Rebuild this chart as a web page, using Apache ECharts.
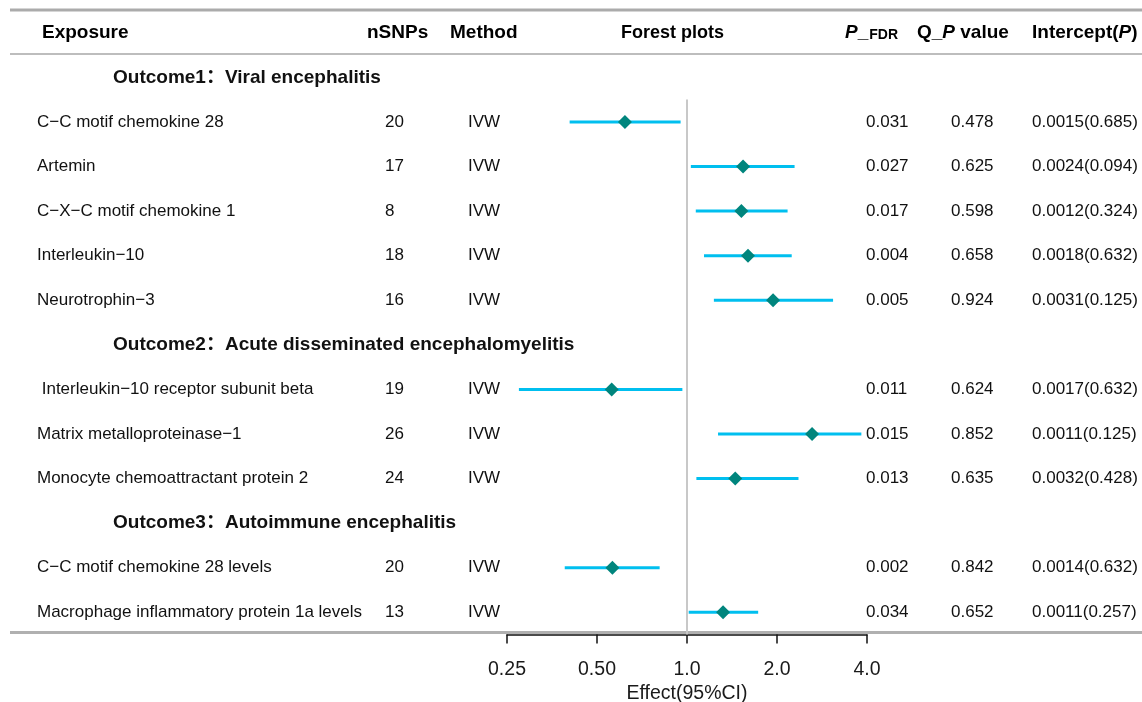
<!DOCTYPE html>
<html><head><meta charset="utf-8">
<script src="https://cdn.jsdelivr.net/npm/echarts@6/dist/echarts.min.js"></script>
<style>html,body{margin:0;padding:0;background:#fff}#c{width:1142px;height:702px}</style>
</head><body><div id="c"></div>
<script>
// ---------------- data ----------------
const outcomeNames = ['Outcome1\uFF1AViral encephalitis', 'Outcome2\uFF1AAcute disseminated encephalomyelitis', 'Outcome3\uFF1AAutoimmune encephalitis'];
const groupSizes = [5, 3, 2];
const exposures = [
  'C\u2212C motif chemokine 28', 'Artemin', 'C\u2212X\u2212C motif chemokine 1', 'Interleukin\u221210', 'Neurotrophin\u22123',
  ' Interleukin\u221210 receptor subunit beta', 'Matrix metalloproteinase\u22121', 'Monocyte chemoattractant protein 2',
  'C\u2212C motif chemokine 28 levels', 'Macrophage inflammatory protein 1a levels'
];
const nSNPs = [20, 17, 8, 18, 16, 19, 26, 24, 20, 13];
const methods = ['IVW', 'IVW', 'IVW', 'IVW', 'IVW', 'IVW', 'IVW', 'IVW', 'IVW', 'IVW'];
const effect = [0.62, 1.54, 1.52, 1.60, 1.94, 0.56, 2.62, 1.45, 0.563, 1.32];
const lower  = [0.405, 1.03, 1.07, 1.14, 1.23, 0.274, 1.27, 1.075, 0.39, 1.013];
const upper  = [0.952, 2.29, 2.17, 2.24, 3.08, 0.965, 3.83, 2.36, 0.81, 1.73];
const pFDR = ['0.031', '0.027', '0.017', '0.004', '0.005', '0.011', '0.015', '0.013', '0.002', '0.034'];
const qP = ['0.478', '0.625', '0.598', '0.658', '0.924', '0.624', '0.852', '0.635', '0.842', '0.652'];
const intercept = ['0.0015(0.685)', '0.0024(0.094)', '0.0012(0.324)', '0.0018(0.632)', '0.0031(0.125)',
  '0.0017(0.632)', '0.0011(0.125)', '0.0032(0.428)', '0.0014(0.632)', '0.0011(0.257)'];
const tickValues = [0.25, 0.5, 1, 2, 4];
const tickLabels = ['0.25', '0.50', '1.0', '2.0', '4.0'];
const axisName = 'Effect(95%CI)';
const refValue = 1;

// ---------------- layout ----------------
const FONT = '"Liberation Sans", Arial, "Noto Sans CJK SC", sans-serif';
const rowSlots = [], headerSlots = [];
let s = 0;
groupSizes.forEach(n => { headerSlots.push(s); s++; for (let i = 0; i < n; i++) { rowSlots.push(s); s++; } });
const nSlots = s;
const gridTop = 55, gridH = 579.6;
const colX = { exposure: 37, nsnps: 385, method: 468, pfdr: 866, qp: 951, intercept: 1032, outcome: 113 };

// table text entries
const textItems = [];
rowSlots.forEach((sl, i) => {
  textItems.push({ x: colX.exposure, y: sl, t: exposures[i], b: false });
  textItems.push({ x: colX.nsnps, y: sl, t: String(nSNPs[i]), b: false });
  textItems.push({ x: colX.method, y: sl, t: methods[i], b: false });
  textItems.push({ x: colX.pfdr, y: sl, t: pFDR[i], b: false });
  textItems.push({ x: colX.qp, y: sl, t: qP[i], b: false });
  textItems.push({ x: colX.intercept, y: sl, t: intercept[i], b: false });
});
headerSlots.forEach((sl, i) => textItems.push({ x: colX.outcome, y: sl, t: outcomeNames[i], b: true }));

const chart = echarts.init(document.getElementById('c'));
function hdr(x, text, size, rich) {
  return { type: 'text', x: x, y: 33, style: { text: text, verticalAlign: 'middle', align: 'left', rich: rich || {}, fontFamily: FONT, fontSize: size, fontWeight: 'bold', fill: '#000' } };
}
const richP = {
  i: { fontFamily: FONT, fontSize: 19, fontWeight: 'bold', fontStyle: 'italic', fill: '#000' },
  b: { fontFamily: FONT, fontSize: 19, fontWeight: 'bold', fill: '#000' },
  s: { fontFamily: FONT, fontSize: 14, fontWeight: 'bold', fill: '#000', padding: [4, 0, 0, 1] }
};

chart.setOption({
  animation: false,
  backgroundColor: '#fff',
  grid: [
    { left: 507, width: 360, top: gridTop, height: gridH, containLabel: false, outerBoundsMode: 'none' },
    { left: 0, width: 1142, top: gridTop, height: gridH, containLabel: false, outerBoundsMode: 'none' }
  ],
  xAxis: [
    {
      gridIndex: 0, type: 'log', logBase: 2, min: 0.25, max: 4, splitNumber: 4, position: 'bottom',
      axisLine: { show: true, onZero: false, lineStyle: { color: '#111', width: 1.5 } },
      axisTick: { show: true, length: 9, lineStyle: { color: '#111', width: 1.5 } },
      splitLine: { show: false },
      axisLabel: {
        fontFamily: FONT, fontSize: 19.5, color: '#1a1a1a', margin: 25,
        formatter: v => { let k = 0, d = 1e9; tickValues.forEach((t, j) => { const dd = Math.abs(Math.log2(t) - Math.log2(v)); if (dd < d) { d = dd; k = j; } }); return tickLabels[k]; }
      },
      name: axisName, nameLocation: 'middle', nameGap: 44,
      nameTextStyle: { fontFamily: FONT, fontSize: 19.5, color: '#1a1a1a' }
    },
    { gridIndex: 1, type: 'value', min: 0, max: 1142, show: false }
  ],
  yAxis: [
    { gridIndex: 0, type: 'value', min: -0.5, max: nSlots - 0.5, inverse: true, show: false },
    { gridIndex: 1, type: 'value', min: -0.5, max: nSlots - 0.5, inverse: true, show: false }
  ],
  graphic: [
    { type: 'line', shape: { x1: 10, y1: 10, x2: 1142, y2: 10 }, style: { stroke: '#ababab', lineWidth: 3 } },
    { type: 'line', shape: { x1: 10, y1: 54, x2: 1142, y2: 54 }, style: { stroke: '#bdbdbd', lineWidth: 2 } },
    { type: 'line', shape: { x1: 10, y1: 632.5, x2: 1142, y2: 632.5 }, style: { stroke: '#b0b0b0', lineWidth: 3 } },
    hdr(42, 'Exposure', 19),
    hdr(367, 'nSNPs', 19),
    hdr(450, 'Method', 19),
    hdr(621, 'Forest plots', 18),
    hdr(845, '{i|P}{b|_}{s|FDR}', 19, richP),
    hdr(917, '{b|Q_}{i|P}{b| value}', 19, richP),
    hdr(1032, '{b|Intercept(}{i|P}{b|)}', 19, richP)
  ],
  series: [
    {
      type: 'line', xAxisIndex: 0, yAxisIndex: 0, symbol: 'none', silent: true,
      data: [[refValue, 0.5], [refValue, nSlots - 0.5]],
      lineStyle: { color: '#c8c8c8', width: 2 }, z: 1
    },
    {
      type: 'custom', xAxisIndex: 0, yAxisIndex: 0, z: 2,
      data: rowSlots.map((sl, i) => [lower[i], upper[i], sl]),
      encode: { x: [0, 1], y: 2 },
      renderItem: (params, api) => {
        const a = api.coord([api.value(0), api.value(2)]);
        const b = api.coord([api.value(1), api.value(2)]);
        return { type: 'line', shape: { x1: a[0], y1: a[1], x2: b[0], y2: b[1] }, style: { stroke: '#00bfef', lineWidth: 3 } };
      }
    },
    {
      type: 'scatter', xAxisIndex: 0, yAxisIndex: 0, z: 3,
      data: rowSlots.map((sl, i) => [effect[i], sl]),
      symbol: 'diamond', symbolSize: 14,
      itemStyle: { color: '#00857d', opacity: 1 }
    },
    {
      type: 'custom', xAxisIndex: 1, yAxisIndex: 1, z: 4, silent: true,
      data: textItems.map(d => [d.x, d.y]),
      encode: { x: 0, y: 1 },
      renderItem: (params, api) => {
        const it = textItems[params.dataIndex];
        const p = api.coord([api.value(0), api.value(1)]);
        return {
          type: 'text', x: p[0], y: p[1],
          style: { text: it.t, align: 'left', verticalAlign: 'middle', fontFamily: FONT, fontSize: it.b ? 19 : 17, fontWeight: it.b ? 'bold' : 'normal', fill: '#111' }
        };
      }
    }
  ]
});
</script></body></html>
